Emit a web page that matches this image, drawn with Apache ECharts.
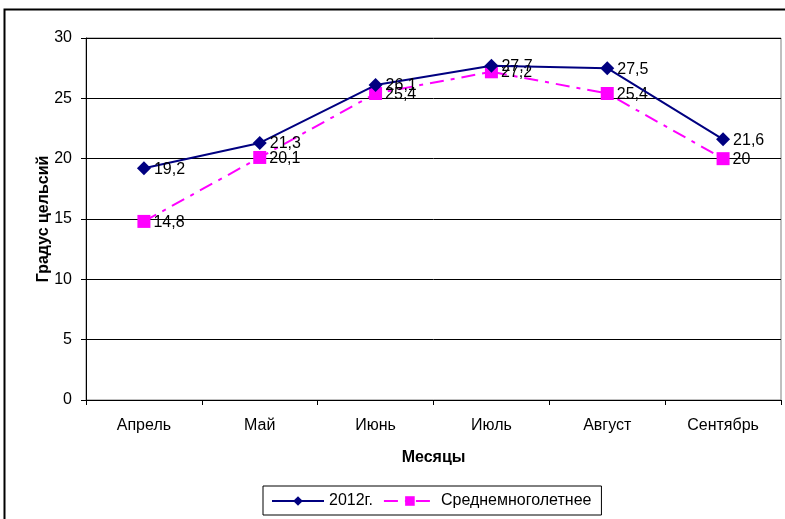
<!DOCTYPE html>
<html><head><meta charset="utf-8">
<script src="https://cdn.jsdelivr.net/npm/echarts@6/dist/echarts.min.js"></script>
<style>html,body{margin:0;padding:0;background:#fff}#c{width:785px;height:519px}</style>
</head><body><div id="c"></div>
<script>
const categories = ['Апрель','Май','Июнь','Июль','Август','Сентябрь'];
const series2012 = [19.2, 21.3, 26.1, 27.7, 27.5, 21.6];
const seriesAvg = [14.8, 20.1, 25.4, 27.2, 25.4, 20];
const seriesNames = ['2012г.', 'Среднемноголетнее'];
const yTicks = {min: 0, max: 30, interval: 5};

const font = 'Liberation Sans, Arial, sans-serif';
const fmt = p => String(p.value).replace('.', ',');
const chart = echarts.init(document.getElementById('c'), null, {renderer: 'canvas'});
chart.setOption({
  animation: false,
  backgroundColor: '#fff',
  textStyle: {fontFamily: font},
  graphic: [{
    type: 'rect', shape: {x: 4.5, y: 9.5, width: 800, height: 520},
    style: {fill: 'none', stroke: '#000', lineWidth: 2}, z: -1
  }],
  grid: {left: 86, right: 4, top: 38, bottom: 119, show: true, borderColor: '#808080', borderWidth: 1, containLabel: false},
  legend: {
    bottom: 4, left: 263, itemGap: 10,
    borderColor: '#000', borderWidth: 1, padding: [7, 10, 6, 8],
    itemWidth: 52, itemHeight: 12,
    textStyle: {fontFamily: font, fontSize: 16, color: '#000'},
    data: seriesNames
  },
  xAxis: {
    type: 'category', data: categories, boundaryGap: true,
    name: 'Месяцы', nameLocation: 'middle', nameGap: 50, nameMoveOverlap: false,
    nameTextStyle: {fontFamily: font, fontSize: 16, fontWeight: 'bold', color: '#000'},
    axisLine: {lineStyle: {color: '#000', width: 1}},
    axisTick: {show: true, length: 5, lineStyle: {color: '#000'}},
    axisLabel: {fontFamily: font, fontSize: 16, color: '#000', margin: 18},
    splitLine: {show: false}
  },
  yAxis: {
    type: 'value', min: yTicks.min, max: yTicks.max, interval: yTicks.interval,
    name: 'Градус цельсий', nameLocation: 'middle', nameGap: 34, nameMoveOverlap: false,
    nameTextStyle: {fontFamily: font, fontSize: 16, fontWeight: 'bold', color: '#000'},
    axisLine: {show: true, lineStyle: {color: '#000', width: 1}},
    axisTick: {show: true, length: 5, lineStyle: {color: '#000'}},
    axisLabel: {fontFamily: font, fontSize: 16, color: '#000', margin: 14},
    splitLine: {show: true, lineStyle: {color: '#000', width: 1}}
  },
  series: [{
    name: seriesNames[0], type: 'line', data: series2012,
    symbol: 'diamond', symbolSize: 14,
    lineStyle: {color: '#000080', width: 2},
    itemStyle: {color: '#000080'},
    label: {show: true, position: 'right', distance: 3, offset: [0, 1], formatter: fmt,
      fontFamily: font, fontSize: 16, color: '#000'},
    z: 3
  }, {
    name: seriesNames[1], type: 'line', data: seriesAvg,
    symbol: 'rect', symbolSize: 13,
    lineStyle: {color: '#FF00FF', width: 2, type: [14, 7, 4, 7]},
    itemStyle: {color: '#FF00FF'},
    label: {show: true, position: 'right', distance: 3, offset: [0, 1], formatter: fmt,
      fontFamily: font, fontSize: 16, color: '#000'},
    z: 2
  }]
});
</script></body></html>
